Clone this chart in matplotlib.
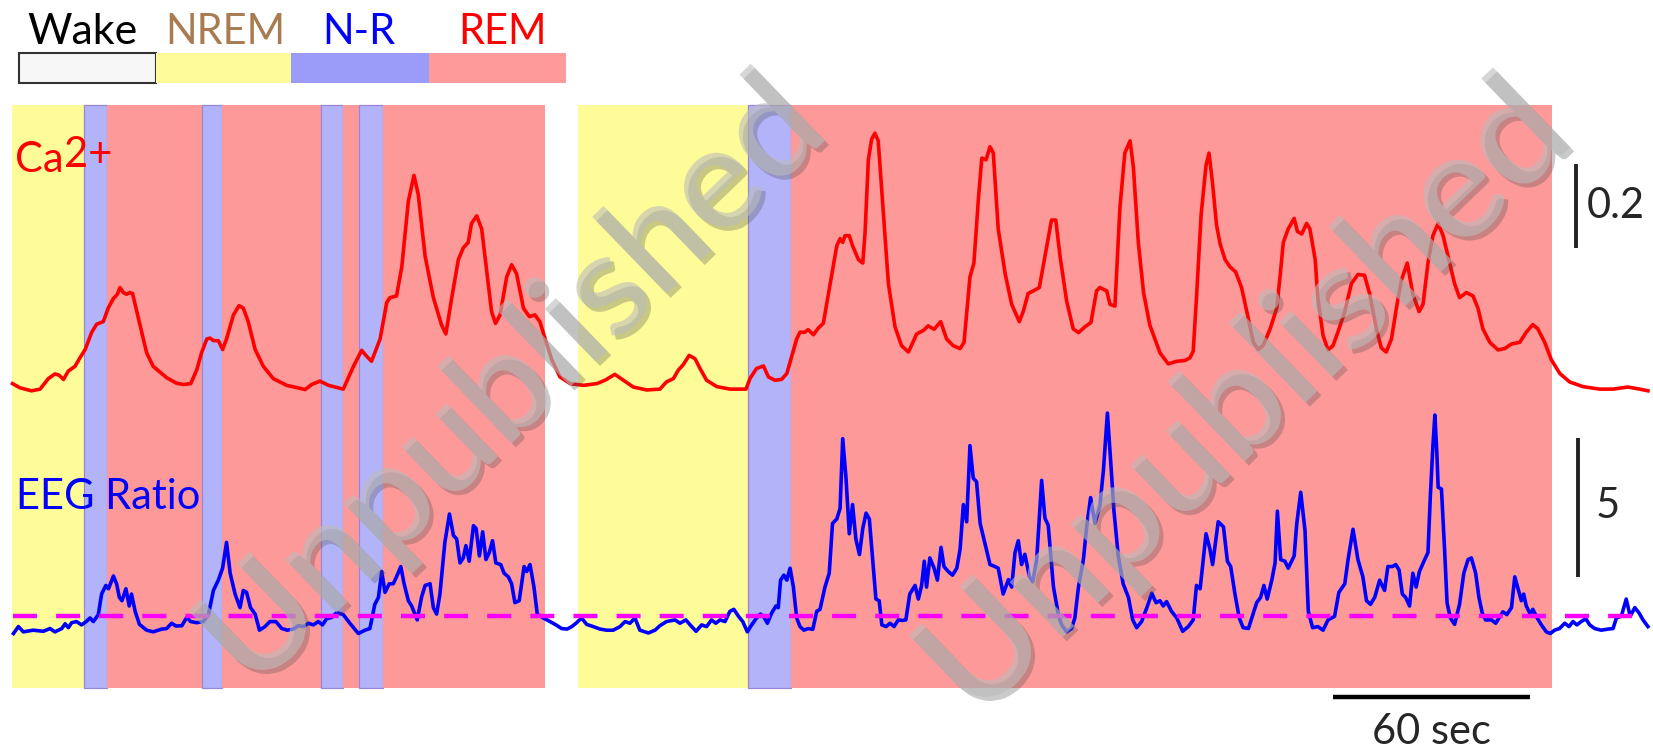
import matplotlib
matplotlib.use('Agg')
import matplotlib.pyplot as plt
import matplotlib.patheffects as pe
from matplotlib.patches import Rectangle

# sleep scoring, seconds
state_start = [0.0, 21.75, 28.8, 57.5, 63.8, 93.7, 100.6, 105.5, 112.8, 162.0, 172.1, 223.8, 236.7, 468.3]
state_end = state_start[1:] + [497.4]
state_name = ['NREM', 'N-R', 'REM', 'N-R', 'REM', 'N-R', 'REM', 'N-R', 'REM',
              'Wake', 'NREM', 'N-R', 'REM', 'Wake']

# Ca2+ signal (dF/F)
ca_t = [0.0, 2.3, 5.8, 8.4, 10.9, 12.9, 14.2, 15.5, 17.0, 19.0, 20.5, 22.1, 24.1, 25.6, 27.6,
        29.1, 30.7, 31.9, 32.7, 33.7, 34.7, 35.7, 36.5, 38.8, 40.8, 42.8, 46.9, 49.9, 52.0, 54.2,
        56.0, 57.5, 59.1, 60.1, 61.1, 62.6, 63.9, 65.1, 67.2, 68.9, 70.2, 71.7, 73.8, 76.3, 79.3,
        83.4, 89.0, 91.0, 93.5, 96.1, 100.6, 103.7, 106.2, 107.7, 109.2, 111.8, 113.8, 114.8,
        116.8, 118.4, 120.4, 122.1, 123.4, 125.5, 128.0, 130.5, 131.8, 133.6, 135.6, 137.1, 138.6,
        139.6, 141.2, 142.7, 144.2, 145.7, 146.9, 148.3, 150.3, 151.8, 153.3, 155.4, 157.2, 158.9,
        160.4, 162.0, 164.0, 166.5, 169.6, 173.6, 177.7, 180.2, 183.2, 185.8, 188.8, 192.9, 196.9,
        198.9, 201.0, 202.5, 204.0, 205.8, 207.6, 209.1, 211.1, 214.2, 218.2, 223.1, 224.3, 226.3,
        228.4, 229.9, 231.9, 233.9, 235.5, 237.0, 238.5, 239.5, 241.0, 242.0, 243.6, 245.1, 246.6,
        247.6, 249.1, 250.7, 251.7, 252.5, 253.2, 254.5, 255.5, 257.3, 258.6, 259.3, 260.3, 261.3,
        262.3, 263.3, 264.9, 266.4, 268.4, 270.4, 272.5, 275.0, 277.0, 278.5, 280.3, 282.3, 284.1,
        286.1, 288.2, 289.4, 291.2, 292.4, 293.8, 294.8, 296.1, 297.3, 298.3, 299.8, 301.9, 303.9,
        306.2, 307.4, 308.9, 310.5, 312.3, 314.0, 316.0, 317.3, 318.6, 320.6, 322.6, 324.2, 326.2,
        328.0, 329.7, 330.7, 332.8, 333.8, 335.3, 336.8, 338.3, 339.9, 340.9, 342.4, 344.0, 345.9,
        349.0, 351.5, 354.1, 356.6, 358.1, 359.1, 360.1, 361.5, 363.0, 363.9, 365.0, 366.2, 367.3,
        368.8, 370.3, 372.0, 373.8, 375.4, 377.4, 378.9, 380.4, 382.5, 384.5, 385.5, 386.5, 388.0,
        389.8, 390.8, 392.1, 393.6, 394.6, 396.2, 397.0, 398.6, 400.1, 401.6, 403.1, 405.2, 407.2,
        409.2, 411.2, 412.8, 414.8, 416.3, 417.8, 419.4, 420.9, 422.4, 424.2, 425.9, 427.8, 429.0,
        430.5, 432.0, 433.6, 435.1, 436.6, 438.6, 440.1, 442.2, 444.2, 445.7, 447.2, 449.3, 451.8,
        453.8, 455.9, 458.4, 460.4, 462.4, 463.9, 466.0, 468.0, 470.6, 473.6, 477.6, 482.7, 486.8,
        491.3, 494.9, 497.4]
ca_v = [0.015, 0.005, -0.002, 0.002, 0.027, 0.038, 0.035, 0.025, 0.045, 0.056, 0.076, 0.096, 0.137, 0.156, 0.162,
        0.194, 0.217, 0.227, 0.243, 0.231, 0.227, 0.231, 0.229, 0.154, 0.088, 0.056, 0.029, 0.016, 0.013, 0.015,
        0.047, 0.088, 0.121, 0.123, 0.117, 0.117, 0.096, 0.121, 0.178, 0.200, 0.194, 0.162, 0.096, 0.056, 0.027,
        0.011, 0.001, 0.013, 0.021, 0.011, 0.002, 0.056, 0.094, 0.080, 0.068, 0.121, 0.207, 0.219,
        0.223, 0.292, 0.448, 0.509, 0.464, 0.317, 0.219, 0.154, 0.133, 0.219, 0.309, 0.337, 0.350,
        0.395, 0.413, 0.382, 0.284, 0.186, 0.158, 0.178, 0.268, 0.297, 0.276, 0.194, 0.174, 0.178,
        0.162, 0.121, 0.072, 0.031, 0.015, 0.011, 0.015, 0.023, 0.037, 0.023, 0.007, 0.000, 0.002,
        0.019, 0.027, 0.047, 0.060, 0.082, 0.074, 0.051, 0.023, 0.008, 0.002, 0.002, 0.027, 0.051,
        0.057, 0.031, 0.023, 0.025, 0.039, 0.080, 0.121, 0.137, 0.137, 0.143, 0.131, 0.147, 0.158,
        0.203, 0.272, 0.342, 0.359, 0.350, 0.366, 0.366, 0.342, 0.309, 0.301, 0.374, 0.546, 0.595,
        0.609, 0.591, 0.415, 0.252, 0.150, 0.105, 0.090, 0.133, 0.141, 0.152, 0.144, 0.162, 0.121,
        0.105, 0.098, 0.113, 0.268, 0.301, 0.456, 0.550, 0.546, 0.577, 0.562, 0.382, 0.276, 0.203,
        0.162, 0.186, 0.229, 0.235, 0.243, 0.317, 0.403, 0.403, 0.317, 0.211, 0.145, 0.136, 0.150,
        0.160, 0.235, 0.243, 0.235, 0.203, 0.199, 0.431, 0.562, 0.591, 0.529, 0.350, 0.231, 0.154,
        0.088, 0.062, 0.068, 0.070, 0.076, 0.092, 0.219, 0.415, 0.533, 0.562, 0.489, 0.391, 0.346,
        0.309, 0.292, 0.280, 0.243, 0.186, 0.113, 0.096, 0.106, 0.145, 0.194, 0.268, 0.350, 0.382,
        0.407, 0.376, 0.370, 0.395, 0.382, 0.309, 0.219, 0.129, 0.095, 0.105, 0.137, 0.186, 0.252,
        0.274, 0.272, 0.227, 0.145, 0.100, 0.090, 0.121, 0.194, 0.260, 0.301, 0.227, 0.186, 0.203,
        0.301, 0.366, 0.395, 0.366, 0.317, 0.252, 0.219, 0.231, 0.223, 0.194, 0.145, 0.113, 0.095,
        0.098, 0.109, 0.113, 0.137, 0.155, 0.145, 0.113, 0.072, 0.039, 0.019, 0.008, 0.002, 0.002,
        0.007, 0.002, -0.002]

# EEG theta/delta ratio
eeg_t = [0.3, 1.8, 3.3, 6.3, 9.4, 11.4, 12.9, 15.0, 16.0, 17.0, 18.0, 19.5, 21.0, 22.4, 23.6, 24.6,
         26.1, 27.1, 28.4, 29.2, 30.7, 31.7, 32.5, 33.3, 34.5, 35.5, 36.2, 37.3, 38.6, 40.8, 42.8,
         45.4, 46.9, 48.4, 49.7, 51.5, 53.0, 54.2, 56.0, 58.0, 59.6, 61.1, 62.6, 63.9, 65.1, 66.2,
         67.7, 69.2, 70.2, 71.2, 72.4, 73.8, 75.1, 76.8, 78.3, 80.1, 81.9, 83.6, 85.4, 86.9, 88.5,
         90.0, 91.5, 93.0, 94.3, 95.5, 97.1, 98.6, 100.6, 102.6, 105.2, 107.2, 108.7, 110.2, 111.3,
         112.3, 113.3, 114.6, 115.8, 116.8, 118.1, 119.1, 120.4, 121.4, 123.1, 124.4, 125.5, 127.0,
         128.0, 129.0, 130.0, 131.5, 132.9, 134.1, 135.1, 136.1, 137.1, 137.9, 138.9, 140.2, 141.0,
         142.0, 143.0, 144.0, 145.0, 146.0, 147.0, 148.5, 149.5, 150.8, 151.8, 152.8, 154.1, 155.6,
         156.4, 157.4, 158.6, 159.6, 161.4, 163.5, 165.3, 167.0, 168.7, 170.1, 171.4, 173.1, 174.6,
         176.6, 178.7, 180.7, 182.7, 184.8, 186.3, 187.8, 189.3, 190.8, 193.4, 195.4, 196.9, 198.9,
         201.5, 203.0, 204.8, 206.1, 207.9, 209.6, 211.1, 212.6, 213.9, 215.2, 216.7, 218.2, 219.4,
         220.8, 222.1, 223.5, 224.8, 226.3, 227.5, 228.4, 229.6, 230.9, 232.2, 232.9, 233.6, 234.6,
         235.5, 236.5, 237.5, 238.5, 239.5, 240.7, 242.0, 243.4, 244.6, 245.6, 247.1, 248.4, 249.4,
         250.7, 251.7, 252.5, 253.5, 254.5, 255.5, 256.5, 257.6, 258.6, 259.6, 260.6, 261.8, 262.6,
         263.6, 264.4, 265.7, 266.9, 268.1, 269.4, 270.7, 271.7, 272.9, 274.5, 275.5, 276.5, 277.3,
         278.0, 279.0, 280.3, 281.3, 282.4, 283.3, 284.6, 285.9, 287.2, 288.2, 289.2, 290.2, 291.2,
         292.2, 293.2, 294.3, 295.8, 297.3, 298.8, 299.8, 301.3, 302.9, 303.9, 304.9, 305.9, 306.9,
         307.9, 309.3, 310.3, 311.5, 312.3, 313.0, 314.0, 315.0, 316.6, 318.1, 319.1, 320.6, 322.1,
         323.1, 324.2, 325.7, 326.7, 327.9, 329.2, 330.7, 331.8, 333.0, 334.0, 335.0, 336.3, 337.8,
         339.4, 340.7, 341.9, 343.4, 345.0, 346.5, 347.8, 349.0, 350.0, 351.0, 352.5, 354.1, 355.9,
         357.6, 359.1, 360.1, 361.2, 363.0, 364.2, 365.0, 366.7, 368.3, 369.5, 370.5, 371.8, 373.1,
         374.3, 375.9, 377.4, 378.4, 379.6, 380.6, 381.6, 383.0, 384.0, 384.7, 385.7, 387.0, 388.0,
         389.8, 390.6, 391.8, 393.1, 394.1, 395.4, 397.0, 398.6, 400.1, 402.1, 403.4, 405.2, 406.2,
         407.7, 409.2, 410.7, 411.8, 413.0, 414.3, 415.8, 417.3, 418.3, 419.7, 420.7, 421.7, 422.7,
         423.7, 424.9, 425.9, 426.9, 427.9, 429.5, 430.5, 431.2, 432.0, 432.6, 433.2, 433.6, 434.6,
         435.6, 436.3, 437.3, 438.6, 440.1, 441.4, 442.7, 443.7, 445.0, 446.0, 447.0, 448.0, 449.8,
         451.1, 452.1, 453.3, 454.5, 455.9, 456.9, 457.9, 458.9, 459.6, 460.4, 461.6, 462.4, 463.7,
         465.0, 466.5, 467.7, 469.0, 470.5, 472.1, 473.4, 474.6, 475.8, 477.1, 478.5, 479.7, 481.2,
         483.2, 485.3, 486.8, 487.8, 489.3, 490.8, 492.0, 493.4, 494.7, 495.9, 497.4]
eeg_r = [0.87, 1.12, 0.93, 0.99, 0.95, 1.05, 0.93, 1.05, 1.22, 1.08, 1.26, 1.30, 1.18, 1.30, 1.43, 1.30,
         1.55, 2.29, 2.60, 2.48, 2.94, 2.64, 2.17, 2.05, 2.48, 1.86, 2.29, 1.67, 1.20, 0.99, 0.93,
         1.03, 1.05, 1.24, 1.14, 1.15, 1.45, 1.30, 1.26, 1.30, 1.55, 2.42, 2.79, 3.22, 4.15, 3.04,
         2.29, 1.80, 2.42, 2.35, 1.80, 1.57, 0.99, 1.12, 1.30, 1.30, 1.05, 0.99, 1.03, 1.15, 1.12,
         1.24, 1.18, 1.30, 1.18, 1.40, 1.45, 1.62, 1.55, 1.24, 0.87, 0.99, 1.05, 1.92, 2.17,
         3.10, 2.35, 2.66, 2.66, 2.91, 3.28, 2.66, 2.05, 1.86, 1.36, 2.17, 2.60, 2.66,
         1.80, 1.57, 2.29, 4.15, 5.17, 4.40, 4.27, 3.41, 3.59, 4.03, 3.47, 4.75, 4.65,
         3.66, 4.53, 3.53, 3.78, 4.21, 3.41, 3.35, 3.04, 2.91, 2.66, 1.98, 2.05, 3.28,
         3.10, 3.35, 2.54, 1.57, 1.43, 1.30, 1.18, 1.05, 1.03, 1.12, 1.24, 1.43, 1.20,
         1.12, 1.03, 0.99, 0.99, 1.12, 1.30, 1.24, 1.43, 0.99, 0.89, 0.99, 1.15, 1.30,
         1.36, 1.24, 1.36, 1.18, 0.95, 1.18, 1.12, 1.36, 1.24, 1.36, 1.30, 1.67, 1.74,
         1.49, 1.30, 0.93, 1.18, 1.43, 1.57, 1.49, 1.24, 1.61, 1.86, 1.80, 2.79, 2.97,
         2.79, 3.22, 2.54, 1.43, 1.12, 0.99, 1.05, 1.02, 1.67, 1.74, 2.54, 3.04, 4.83,
         4.99, 5.37, 7.88, 6.46, 4.46, 5.51, 4.27, 3.71, 4.65, 5.20, 4.99, 3.28, 2.11,
         2.05, 1.18, 1.12, 1.24, 1.12, 1.36, 1.34, 1.36, 2.29, 2.60, 2.11, 2.60, 3.47,
         2.54, 3.59, 3.22, 2.79, 3.97, 3.28, 3.10, 2.97, 3.22, 3.90, 5.51, 4.89, 7.63,
         6.46, 6.33, 4.83, 4.09, 3.35, 3.28, 3.22, 2.29, 2.81, 2.54, 3.78, 4.21, 3.35,
         3.72, 2.91, 2.73, 3.53, 5.02, 6.38, 5.02, 4.77, 2.54, 1.55, 1.18, 0.93, 1.05,
         1.43, 2.54, 3.53, 4.71, 5.76, 4.83, 5.45, 6.75, 8.80, 7.07, 5.27, 3.66, 2.66,
         2.17, 1.36, 1.08, 1.30, 1.80, 2.32, 1.98, 2.05, 1.86, 2.02, 1.67, 1.43, 0.95,
         1.12, 1.36, 2.60, 2.48, 4.46, 3.90, 3.35, 4.89, 4.71, 3.47, 3.28, 2.29, 1.43,
         1.08, 1.05, 1.61, 1.98, 2.17, 2.60, 2.11, 2.79, 3.41, 5.27, 3.53, 3.47, 3.22,
         3.66, 4.83, 5.95, 4.58, 1.67, 1.08, 1.12, 0.99, 1.36, 1.49, 2.35, 2.66, 3.53,
         4.62, 3.53, 2.91, 2.05, 1.92, 2.17, 2.79, 2.42, 3.28, 3.28, 3.35, 3.16, 2.29,
         2.17, 1.86, 3.04, 2.54, 3.10, 3.53, 3.78, 5.76, 7.62, 8.73, 7.37, 6.13, 6.07,
         3.78, 1.98, 1.43, 1.20, 1.92, 3.04, 3.53, 3.59, 3.04, 2.17, 1.61, 1.36, 1.36,
         1.24, 1.43, 1.65, 1.55, 1.80, 2.91, 2.48, 2.05, 2.29, 1.86, 1.57, 1.74, 1.43,
         1.18, 0.93, 0.87, 0.99, 1.05, 1.24, 1.12, 1.30, 1.18, 1.30, 1.40, 1.18, 1.05,
         0.99, 1.03, 1.05, 1.43, 1.49, 2.11, 1.49, 1.80, 1.61, 1.36, 1.12]
eeg_thresh = 1.5

# scale bars
ca_bar = 0.2
eeg_bar = 5
time_bar = 60

state_colors = {'Wake': '#ffffff', 'NREM': '#fdfc98', 'N-R': '#b3b3fa', 'REM': '#fe9999'}
legend_names = ['Wake', 'NREM', 'N-R', 'REM']
legend_fill = ['#f7f7f7', '#fdfc98', '#9b9bfa', '#fe9a9a']
legend_text_colors = ['black', '#a87c50', '#0000ff', '#ff0000']

W, H = 1653, 750
font = ['Lato', 'DejaVu Sans']


def fx(x):
    return x / W


def fy(y):
    return 1 - y / H


fig = plt.figure(figsize=(W / 100, H / 100), dpi=100)

# calcium axis fills the figure; the EEG axis sits on top with its own y scale
ax = fig.add_axes([0, 0, 1, 1])
ax.set_xlim(-3.80, 498.94)
ax.set_ylim(-0.854, 0.925)
ax.axis('off')

ax2 = fig.add_axes([0, 0, 1, 1], sharex=ax)
ax2.set_ylim(-3.32, 23.66)
ax2.axis('off')
ax2.patch.set_visible(False)

for t0, t1, s in zip(state_start, state_end, state_name):
    if s == 'N-R':
        ax.axvspan(t0, t1, ymin=0.0827, ymax=0.8595, facecolor=state_colors[s],
                   edgecolor='#9a86d6', lw=0.9, zorder=0)
    else:
        ax.axvspan(t0, t1, ymin=0.0827, ymax=0.8595, facecolor=state_colors[s],
                   edgecolor='none', lw=0, zorder=0)

ax.plot(ca_t, ca_v, color='#ff0000', lw=2.6, zorder=3, solid_joinstyle='round')
ax2.plot(eeg_t, eeg_r, color='#0000ff', lw=2.6, zorder=3, solid_joinstyle='round')
ax2.plot([eeg_t[0], eeg_t[-1]], [eeg_thresh, eeg_thresh], color='#ff00ff', lw=3.2,
         dashes=(5.4, 4.3), zorder=4)

# scale bars
ax.plot([475.5, 475.5], [0.337, 0.337 + ca_bar], color='#222222', lw=2.8, solid_capstyle='butt')
ax2.plot([476.1, 476.1], [2.92, 2.92 + eeg_bar], color='#222222', lw=2.8, solid_capstyle='butt')
ax.plot([401.5, 401.5 + time_bar], [-0.728, -0.728], color='black', lw=3.2, solid_capstyle='butt')

fig.text(fx(1587), fy(218.5), '%.1f' % ca_bar, fontsize=30, color='#262626', va='baseline', family=font)
fig.text(fx(1596), fy(518), '%d' % eeg_bar, fontsize=30, color='#262626', va='baseline', family=font)
fig.text(fx(1431.6), fy(744), '%d sec' % time_bar, fontsize=30, color='#262626', ha='center',
         va='baseline', family=font)

# trace labels
fig.text(fx(15), fy(172), 'Ca', fontsize=30, color='#ff0000', va='baseline', family=font)
fig.text(fx(64), fy(167), '2+', fontsize=30, color='#ff0000', va='baseline', family=font)
fig.text(fx(16), fy(509), 'EEG Ratio', fontsize=30, color='#0000ff', va='baseline', family=font)

# state legend
box_edges = [19, 155.5, 291, 429, 566]
text_centers = [82, 225, 358.7, 502]
for i, name in enumerate(legend_names):
    x0, x1 = box_edges[i], box_edges[i + 1]
    ec = '#333333' if name == 'Wake' else 'none'
    fig.patches.append(Rectangle((fx(x0), fy(83)), (x1 - x0) / W, 30 / H, transform=fig.transFigure,
                                 facecolor=legend_fill[i], edgecolor=ec, lw=1.5))
    fig.text(fx(text_centers[i]), fy(44.5), name, fontsize=31 if name == 'Wake' else 30,
             color=legend_text_colors[i], ha='center', va='baseline', family=font)

# watermark
for x, y, size in [(514, 384, 104), (1247, 400, 108)]:
    fig.text(fx(x), fy(y), 'Unpublished', fontsize=size, fontweight='semibold', rotation=44,
             rotation_mode='anchor', ha='center', va='center', color='#bcbcbc', alpha=0.6,
             family=font, zorder=10,
             path_effects=[pe.SimplePatchShadow(offset=(3, -3), shadow_rgbFace='#505050', alpha=0.3),
                           pe.Normal()])

fig.savefig('out.png', dpi=100)
